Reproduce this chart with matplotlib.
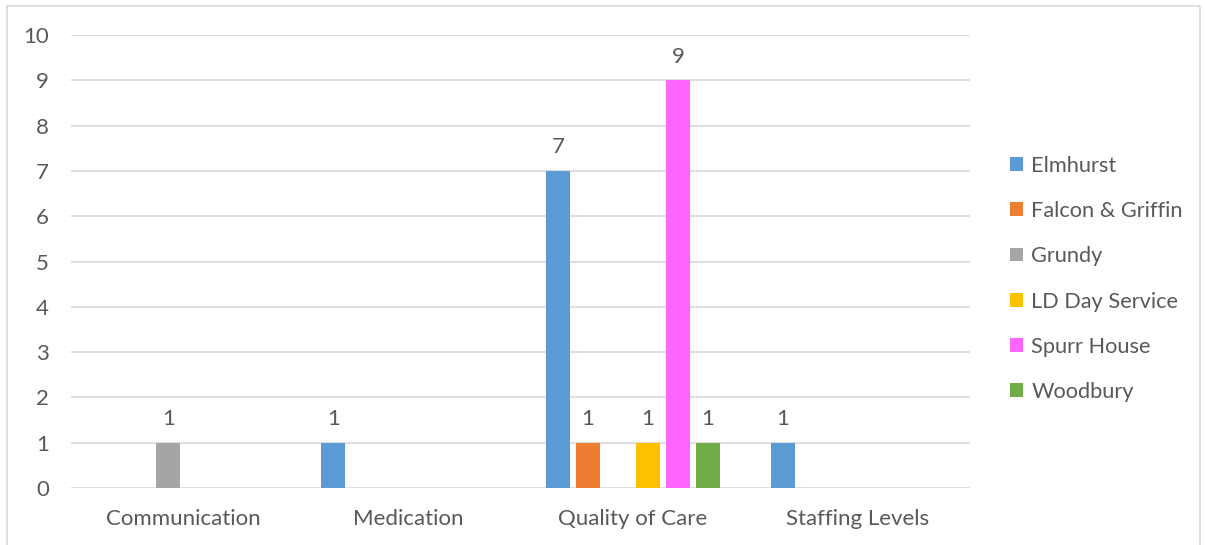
import numpy as np
import matplotlib.pyplot as plt
from matplotlib.patches import Rectangle

# Данные
categories = ["Communication", "Medication", "Quality of Care", "Staffing Levels"]
series = ["Elmhurst", "Falcon & Griffin", "Grundy", "LD Day Service", "Spurr House", "Woodbury"]
elmhurst = [0, 1, 7, 1]
falcon_griffin = [0, 0, 1, 0]
grundy = [1, 0, 0, 0]
ld_day_service = [0, 0, 1, 0]
spurr_house = [0, 0, 9, 0]
woodbury = [0, 0, 1, 0]
values = [elmhurst, falcon_griffin, grundy, ld_day_service, spurr_house, woodbury]
colors = ["#5B9BD5", "#ED7D31", "#A5A5A5", "#FFC000", "#FF66FF", "#70AD47"]

plt.rcParams['font.family'] = ['Lato', 'DejaVu Sans']
text_color = "#595959"
fs = 16

fig = plt.figure(figsize=(12.05, 5.45), dpi=100)
ax = fig.add_axes([71 / 1205, 1 - 488 / 545, 899 / 1205, 453 / 545])

# Рамка вокруг всего рисунка
fig.patches.append(Rectangle((7 / 1205, -0.01), 1193 / 1205, 1 - 6 / 545 + 0.01,
                             transform=fig.transFigure, fill=False,
                             edgecolor="#D9D9D9", linewidth=1.2))

x = np.arange(len(categories))
step = 30 / 225
width = 24 / 225
for i, (name, vals, c) in enumerate(zip(series, values, colors)):
    pos = x + (i - 2.5) * step
    ax.bar(pos, vals, width=width, color=c, label=name, zorder=3)
    for p, v in zip(pos, vals):
        if v > 0:
            ax.text(p, v + 0.3, str(v), ha='center', va='bottom',
                    fontsize=fs, color=text_color)

ax.set_xlim(-0.5, len(categories) - 0.5)
ax.set_ylim(0, 10)
ax.set_yticks(range(0, 11))
ax.set_xticks(x)
ax.set_xticklabels(categories)
ax.grid(axis='y', color="#D9D9D9", linewidth=1.2, zorder=0)
for s in ax.spines.values():
    s.set_visible(False)
ax.tick_params(axis='both', length=0, labelsize=fs, labelcolor=text_color)
ax.tick_params(axis='y', pad=16)
ax.tick_params(axis='x', pad=15)

handles, labels = ax.get_legend_handles_labels()
fig.legend(handles, labels, loc='upper left', bbox_to_anchor=(990 / 1205, 1 - 136 / 545),
           frameon=False, fontsize=15.7, handlelength=0.6, handleheight=0.6,
           handletextpad=0.4, labelspacing=1.16, labelcolor=text_color)

fig.savefig("out.png", dpi=100)
